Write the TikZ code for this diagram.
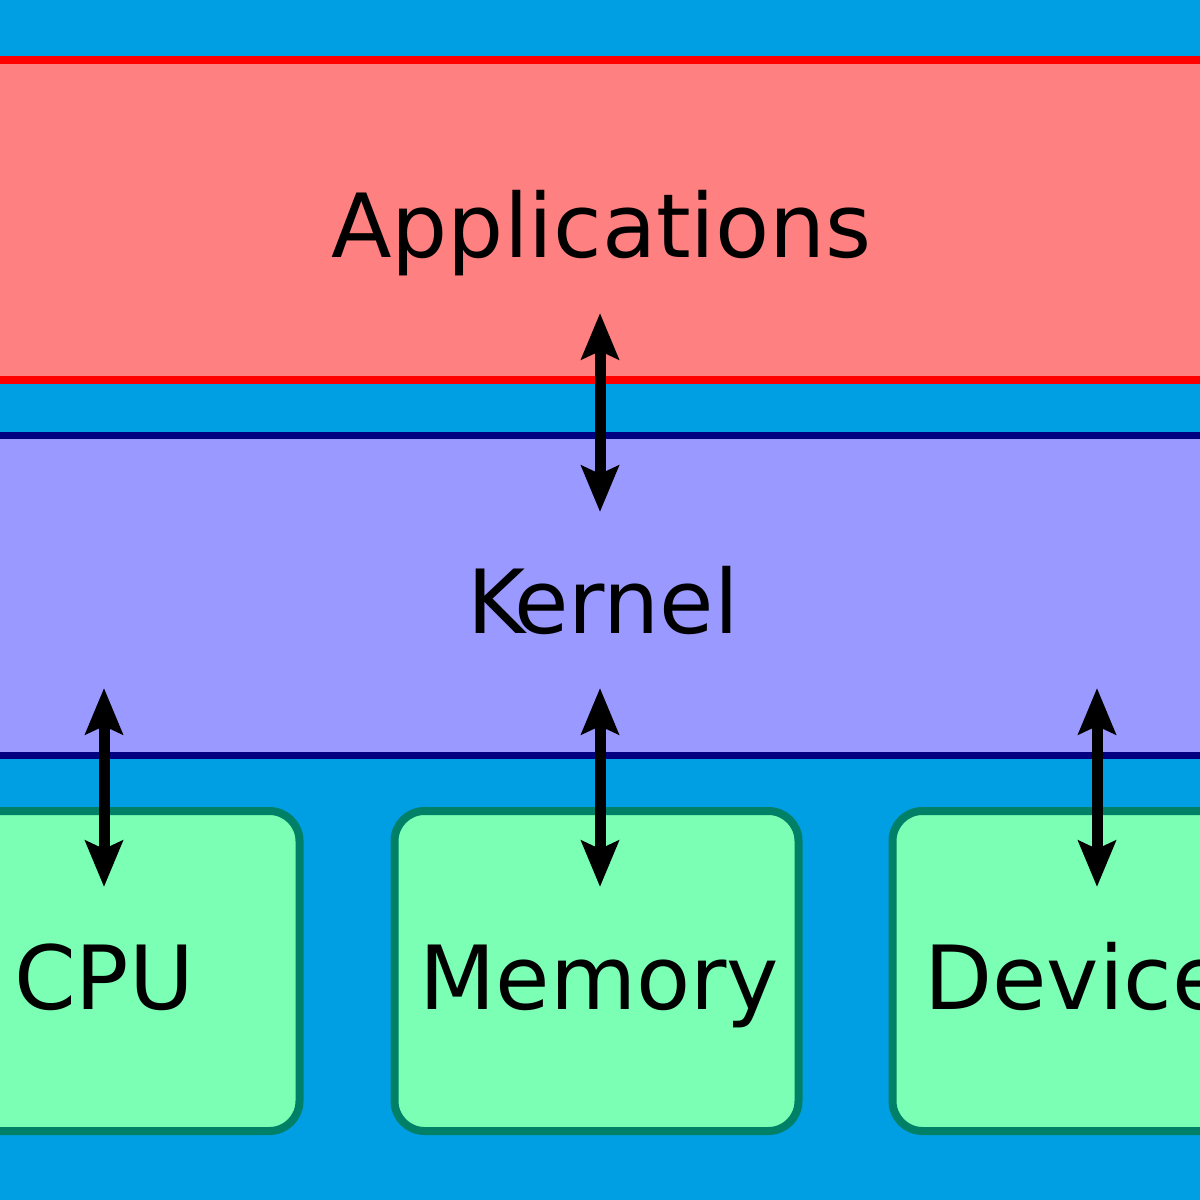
\documentclass[tikz,border=0pt]{standalone}
\usepackage{fontspec}
\setmainfont{DejaVu Sans}
\usetikzlibrary{arrows.meta}
\definecolor{bgblue}{RGB}{0,159,227}
\definecolor{appfill}{RGB}{255,128,128}
\definecolor{appline}{RGB}{255,0,0}
\definecolor{kernfill}{RGB}{153,153,255}
\definecolor{kernline}{RGB}{0,0,128}
\definecolor{hwfill}{RGB}{122,255,180}
\definecolor{hwline}{RGB}{0,128,102}
\tikzset{
  band/.style={rectangle, minimum width=1260pt, minimum height=320pt, inner sep=0pt, line width=8pt},
  hwbox/.style={rectangle, rounded corners=30pt, minimum width=404pt, minimum height=320pt, inner sep=0pt, line width=8pt, draw=hwline, fill=hwfill},
  lbl/.style={anchor=base west, inner sep=0pt, font=\fontsize{88.5pt}{100pt}\selectfont, text=black},
  twoway/.style={line width=11pt, black, {Stealth[length=46pt, width=37pt, inset=8pt]}-{Stealth[length=46pt, width=37pt, inset=8pt]}}
}
\begin{document}
\begin{tikzpicture}[x=1pt,y=-1pt]
\useasboundingbox (0,0) rectangle (1200,1200);
\clip (0,0) rectangle (1200,1200);
\fill[bgblue] (0,0) rectangle (1200,1200);
\node[band, draw=appline, fill=appfill] (apps) at (600,220) {};
\node[band, draw=kernline, fill=kernfill, line width=7pt] (kernel) at (600,595) {};
\node[hwbox] (cpu) at (97.5,971) {};
\node[hwbox] (mem) at (596.5,971) {};
\node[hwbox] (dev) at (1094.5,971) {};
\node[lbl] (appslbl) at (331,257) {Applications};
\node[lbl] (kernlbl) at (467,633) {K\kern-11pt ernel};
\node[lbl] (cpulbl) at (14,1009) {CPU};
\node[lbl] (memlbl) at (419,1009) {Memory};
\node[lbl] (devlbl) at (924,1009) {Devices};
\coordinate (a1) at (600,313);
\coordinate (k1) at (600,512);
\coordinate (k2) at (104,688);
\coordinate (c1) at (104,887);
\coordinate (k3) at (600,688);
\coordinate (m1) at (600,887);
\coordinate (k4) at (1097,688);
\coordinate (d1) at (1097,887);
\draw[twoway] (a1) -- (k1);
\draw[twoway] (k2) -- (c1);
\draw[twoway] (k3) -- (m1);
\draw[twoway] (k4) -- (d1);
\end{tikzpicture}
\end{document}
